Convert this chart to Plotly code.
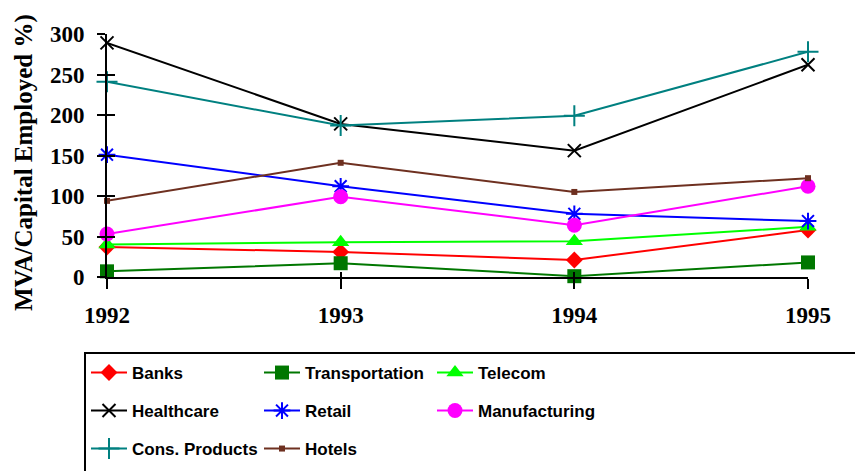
import plotly.graph_objects as go

years = [1992, 1993, 1994, 1995]
banks = [37, 31, 21, 58]
transportation = [7, 17, 1, 18]
telecom = [40, 43, 44, 62]
healthcare = [289, 189, 156, 262]
retail = [151, 112, 78, 69]
manufacturing = [53, 99, 64, 112]
cons_products = [241, 187, 199, 278]
hotels = [94, 141, 105, 122]

y_ticks = [0, 50, 100, 150, 200, 250, 300]

series = [
    ("Banks", banks, "#FF0000", "diamond", 13, "legend"),
    ("Transportation", transportation, "#007700", "square", 14, "legend"),
    ("Telecom", telecom, "#00FF00", "triangle-up", 15, "legend"),
    ("Healthcare", healthcare, "#000000", "x-thin-open", 13, "legend2"),
    ("Retail", retail, "#0000FF", "asterisk-open", 14, "legend2"),
    ("Manufacturing", manufacturing, "#FF00FF", "circle", 15, "legend2"),
    ("Cons. Products", cons_products, "#008080", "cross-thin-open", 15, "legend3"),
    ("Hotels", hotels, "#6E3020", "square", 6, "legend3"),
]

fig = go.Figure()
for name, vals, color, sym, size, lg in series:
    open_sym = sym.endswith("open")
    fig.add_trace(go.Scatter(
        x=years, y=vals, name=name, mode="lines+markers",
        line=dict(color=color, width=2),
        marker=dict(symbol=sym, size=size, color=color,
                    line=dict(color=color, width=2 if open_sym else 0)),
        cliponaxis=False, legend=lg,
    ))

# invisible trace to anchor the overlay axes (cross ticks)
fig.add_trace(go.Scatter(x=[1992], y=[0], xaxis="x2", yaxis="y2", mode="markers",
                         marker=dict(opacity=0), showlegend=False, hoverinfo="skip"))

tick_font = dict(family="Liberation Serif", size=23, color="black", weight="bold")
leg_font = dict(family="Liberation Sans", size=17, color="black", weight="bold")

W, H = 855, 471
ml, mr, mt, mb = 107, 47, 34, 194
pw = W - ml - mr
ph = H - mt - mb

def px_x(p):
    return (p - ml) / pw

def px_y(p):
    return (H - mb - p) / ph

def legend_at(ypix):
    return dict(orientation="h", x=px_x(86), xanchor="left", y=px_y(ypix), yanchor="middle",
                entrywidth=122, entrywidthmode="pixels", font=leg_font,
                bgcolor="rgba(0,0,0,0)", borderwidth=0, itemwidth=36)

fig.update_layout(
    width=W, height=H,
    margin=dict(l=ml, r=mr, t=mt, b=mb, pad=0, autoexpand=False),
    paper_bgcolor="white", plot_bgcolor="white",
    xaxis=dict(range=[1992, 1995], tickvals=years, ticktext=[str(y) for y in years],
               showgrid=False, zeroline=False, showline=True, linecolor="black", linewidth=2,
               ticks="outside", ticklen=10, tickwidth=2, tickcolor="black",
               tickfont=tick_font, ticklabelstandoff=6, automargin=False),
    yaxis=dict(range=[0, 300], tickvals=y_ticks,
               showgrid=False, zeroline=False, showline=True, linecolor="black", linewidth=2,
               ticks="outside", ticklen=8, tickwidth=2, tickcolor="black",
               tickfont=tick_font, ticklabelstandoff=8, automargin=False),
    xaxis2=dict(range=[1992, 1995], overlaying="x", tickvals=years, showticklabels=False,
                showgrid=False, zeroline=False, showline=False,
                ticks="inside", ticklen=5, tickwidth=2, tickcolor="black", side="bottom"),
    yaxis2=dict(range=[0, 300], overlaying="y", tickvals=y_ticks, showticklabels=False,
                showgrid=False, zeroline=False, showline=False,
                ticks="inside", ticklen=8, tickwidth=2, tickcolor="black", side="left"),
    showlegend=True,
    legend=legend_at(373),
    legend2=legend_at(411),
    legend3=legend_at(449),
    shapes=[dict(type="rect", xref="paper", yref="paper",
                 x0=px_x(85), x1=px_x(900), y0=px_y(353), y1=px_y(520),
                 line=dict(color="black", width=2), fillcolor="rgba(0,0,0,0)")],
    annotations=[dict(text="MVA/Capital Employed %)", textangle=-90,
                      xref="paper", yref="paper", x=px_x(24), y=px_y(163),
                      xanchor="center", yanchor="middle", showarrow=False,
                      font=dict(family="Liberation Serif", size=25, color="black", weight="bold"))],
)

fig.write_html("out.html")
